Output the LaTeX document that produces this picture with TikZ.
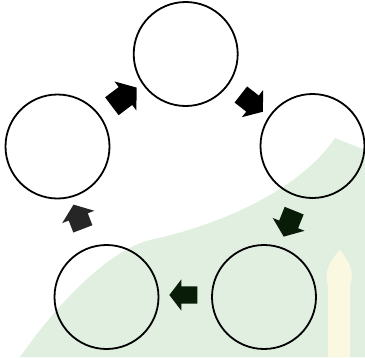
\documentclass[tikz,border=0pt]{standalone}
\usetikzlibrary{shapes.arrows}
\definecolor{wmgreen}{RGB}{224,239,224}
\definecolor{wmyellow}{RGB}{251,248,225}
\definecolor{darrow}{RGB}{8,28,8}
\tikzset{
  stage/.style={circle, draw=black, line width=1.8pt, minimum size=104pt, inner sep=0pt},
  blockarrow/.style={single arrow, fill=black, draw=none, inner xsep=0pt, inner ysep=10pt,
    minimum height=28pt, single arrow head extend=7pt,
    single arrow tip angle=105},
}
\begin{document}
\begin{tikzpicture}[x=1pt,y=-1pt]
\useasboundingbox (0,0) rectangle (365,357);
% faint background watermark
\fill[wmgreen] (20,357) .. controls (60,300) and (110,250) .. (150,240)
  .. controls (220,225) and (300,190) .. (335,138) -- (365,150) -- (365,357) -- cycle;
\fill[wmyellow] (328,357) -- (328,285) .. controls (322,270) and (335,255) .. (340,250)
  .. controls (346,258) and (356,270) .. (350,285) -- (350,357) -- cycle;
% stages
\node[stage] (top) at (185.7,54) {};
\node[stage] (right) at (312.5,146) {};
\node[stage] (bright) at (264,297) {};
\node[stage] (bleft) at (106.5,297) {};
\node[stage] (left) at (57.5,146.5) {};
% arrows
\node[blockarrow, minimum height=31pt, inner ysep=11pt, rotate=37] (a1) at (120.8,99.5) {};
\node[blockarrow, rotate=-38] (a2) at (248.8,100.7) {};
\node[blockarrow, fill=darrow, rotate=-112] (a3) at (290.4,220) {};
\node[blockarrow, fill=darrow, inner ysep=8.5pt, rotate=180] (a4) at (186.7,295) {};
\node[blockarrow, fill=black!85, minimum height=26pt, rotate=111] (a5) at (79.6,220.4) {};
\end{tikzpicture}
\end{document}
